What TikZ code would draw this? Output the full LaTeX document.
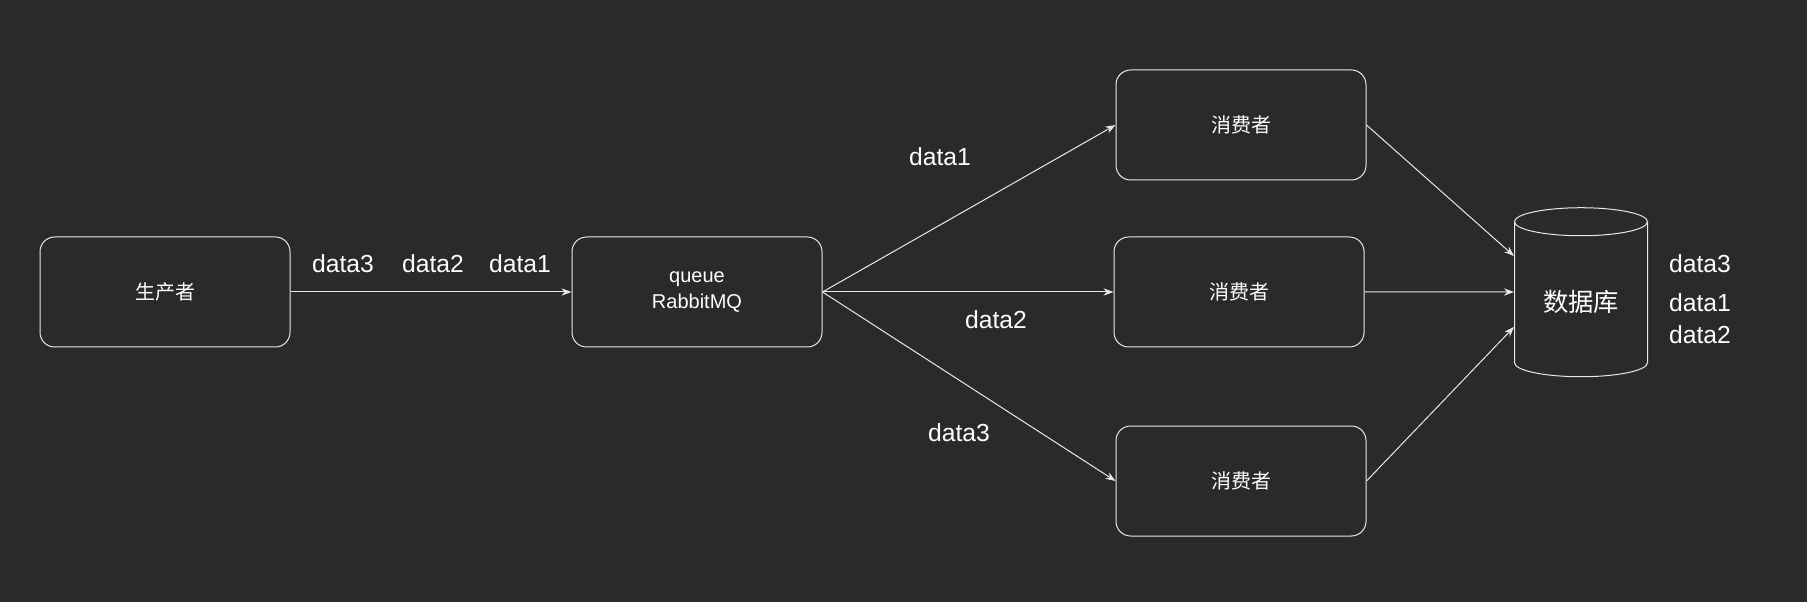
\documentclass[tikz,border=0pt]{standalone}
\usepackage{fontspec}
\setmainfont{Liberation Sans}
\newfontfamily\cjk{Noto Sans CJK SC}
\usetikzlibrary{arrows.meta,shapes.geometric}

\definecolor{bgdark}{HTML}{2A2A2A}
\definecolor{linegray}{HTML}{E8E8E8}

\tikzset{
  box/.style={draw=linegray, rectangle, rounded corners=11pt, line width=0.75pt,
    minimum width=187.5pt, minimum height=82.5pt, text=white, font=\fontsize{15}{19.5}\selectfont},
  flow/.style={draw=linegray, line width=0.75pt, -{Stealth[length=7.5pt,width=5.5pt]}},
  lbl/.style={text=white, font=\fontsize{18.5}{22}\selectfont, inner sep=0pt},
}

\begin{document}
\begin{tikzpicture}[x=0.75pt, y=-0.75pt]
            \fill[bgdark] (0,0) rectangle (1807,602);
            \useasboundingbox (0,0) rectangle (1807,602);
            % producer and queue
            \node[box] (prod) at (165,292) {\cjk 生产者};
            \node[box, align=center] (mq) at (697,292) {queue\\RabbitMQ};
            % consumers
            \node[box] (con1) at (1241,125) {\cjk 消费者};
            \node[box] (con2) at (1239,292) {\cjk 消费者};
            \node[box] (con3) at (1241,481) {\cjk 消费者};
            % database
            \node[draw=linegray, line width=0.75pt, cylinder, shape border rotate=90, aspect=0.33,
                  minimum width=99.75pt, minimum height=126.75pt, text=white,
                  font=\cjk\fontsize{19}{22}\selectfont] (db) at (1581,302) {数据库};
            \draw[flow] (prod.east) -- (mq.west);
            \draw[flow] (mq.east) -- (con1.west);
            \draw[flow] (mq.east) -- (con2.west);
            \draw[flow] (mq.east) -- (con3.west);
            \draw[flow] (con1.east) -- ([yshift=34.5pt]db.west);
            \draw[flow] (con2.east) -- ([yshift=7.5pt]db.west);
            \draw[flow] (con3.east) -- ([yshift=-18.75pt]db.west);
            % data labels
            \node[lbl] (in3) at (343,264) {data3};
            \node[lbl] (in2) at (433,264) {data2};
            \node[lbl] (in1) at (520,264) {data1};
            \node[lbl] (out1) at (940,157) {data1};
            \node[lbl] (out2) at (996,320) {data2};
            \node[lbl] (out3) at (959,433) {data3};
            \node[lbl] (db3) at (1700,264) {data3};
            \node[lbl] (db1) at (1700,303) {data1};
            \node[lbl] (db2) at (1700,335) {data2};
        \end{tikzpicture}
\end{document}
